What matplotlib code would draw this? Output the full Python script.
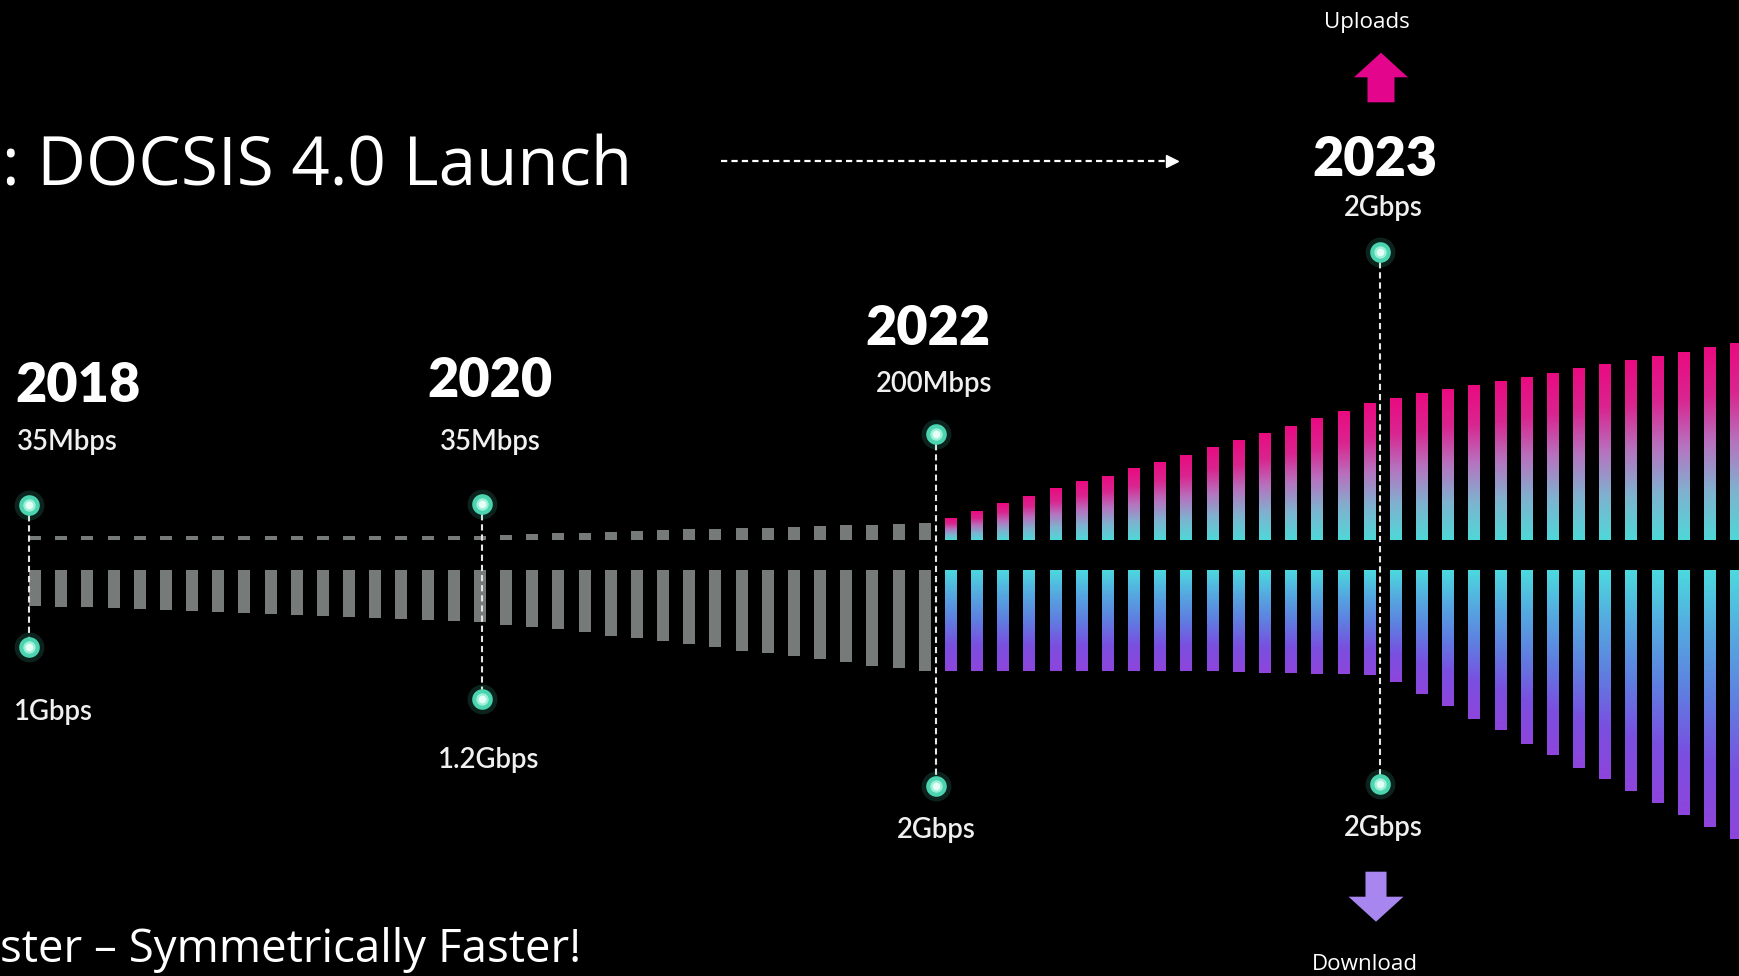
import numpy as np
import matplotlib
matplotlib.use("Agg")
import matplotlib.pyplot as plt
from matplotlib import font_manager as fm
from matplotlib.patches import FancyArrow
from matplotlib.colors import LinearSegmentedColormap

plt.rcParams['lines.scale_dashes'] = False

# ------------------------------------------------------------------ data
years = ['2018', '2020', '2022', '2023']
upload_labels = ['35Mbps', '35Mbps', '200Mbps', '2Gbps']
download_labels = ['1Gbps', '1.2Gbps', '2Gbps', '2Gbps']
# milestone position on the bar-index axis
year_pos = [-0.22, 17.08, 34.41, 51.41]
# marker levels (upload above / download below the centre gap)
upload_marker = [35, 36, 106, 288]
download_marker = [77, 129, 216, 214]

# legacy (grey) bars: upload above, download below
legacy_upload = [4, 4, 4, 4, 4, 4, 4, 4, 4, 4, 4, 4, 4, 4, 4, 4, 4.2,
                 4.5, 5, 5.7, 6.7, 7.5, 8.3, 9.3, 10, 10.7, 11, 11.7, 12.3,
                 13.3, 14, 14.7, 15.3, 16, 16.7]
legacy_download = [35.7, 36.7, 37.4, 38.4, 39, 40, 41.4, 42.4, 43.4, 44, 45,
                   46, 47.4, 48, 49, 50, 50.7, 52, 54.5, 57, 59, 62, 65.5, 68,
                   71, 74, 77, 80.5, 83, 86, 89, 92, 95.5, 98, 101]
# DOCSIS 4.0 (gradient) bars
d4_upload = [21.7, 29, 36.7, 44.3, 51.7, 59, 64.3, 71.7, 78.3, 85, 93.3, 100,
             107.3, 114.3, 121.7, 129, 136.7, 142.5, 146.7, 151, 154.6, 158.7,
             163.2, 167.3, 171.8, 176, 179.7, 184.5, 188.3, 193, 196.6]
d4_download = [101.5, 101.5, 101.5, 101.5, 101.5, 101.5, 101.5, 101.5, 101.5,
               101.5, 101.5, 102.5, 103, 103.5, 104, 104.5, 105, 111.6, 123.6,
               135.7, 149.4, 160.5, 173.6, 184.6, 197.7, 209, 221, 232.8,
               245.2, 257.2, 269.3]

title = ': DOCSIS 4.0 Launch'
subtitle = 'ster \u2013 Symmetrically Faster!'

# ------------------------------------------------------------------ layout
W, H = 1739, 976
X0, STEP, BW = 35.0, 26.17, 12.0
UP_BASE, DN_BASE = 540.0, 570.0
GRAY = '#767b79'

names = {f.name for f in fm.fontManager.ttflist}
SLIDE_FONT = next((f for f in ['Liberation Sans Narrow', 'Open Sans', 'Liberation Sans']
                   if f in names), 'DejaVu Sans')
LABEL_FONT = 'Lato' if 'Lato' in names else 'DejaVu Sans'

fig = plt.figure(figsize=(W / 100, H / 100), dpi=100, facecolor='black')
ax = fig.add_axes([0, 0, 1, 1])
ax.set_facecolor('black')
ax.axis('off')

n_leg = len(legacy_upload)
xs_leg = X0 + STEP * np.arange(n_leg)
xs_d4 = X0 + STEP * (n_leg + np.arange(len(d4_upload)))

# grey legacy bars
ax.bar(xs_leg, -np.array(legacy_upload), bottom=UP_BASE, width=BW, color=GRAY, lw=0)
ax.bar(xs_leg, np.array(legacy_download), bottom=DN_BASE, width=BW, color=GRAY, lw=0)

# gradient bars
cm_up = LinearSegmentedColormap.from_list('up', ['#ea0a80', '#d9258f', '#b673bf', '#7fb2cf', '#4fd8d8'])
cm_dn = LinearSegmentedColormap.from_list('dn', ['#4cdade', '#55a8e0', '#5f7ee0', '#7a4fe0', '#8e45dc'])
grad = np.linspace(0, 1, 256).reshape(-1, 1)

up_bars = ax.bar(xs_d4, -np.array(d4_upload), bottom=UP_BASE, width=BW,
                 color='none', lw=0)
dn_bars = ax.bar(xs_d4, np.array(d4_download), bottom=DN_BASE, width=BW,
                 color='none', lw=0)
for x, h, b in zip(xs_d4, d4_upload, up_bars):
    im = ax.imshow(grad, cmap=cm_up, aspect='auto', origin='upper',
                   extent=(x - BW / 2, x + BW / 2, UP_BASE, UP_BASE - h),
                   interpolation='bilinear', zorder=2)
    im.set_clip_path(b)
for x, h, b in zip(xs_d4, d4_download, dn_bars):
    im = ax.imshow(grad, cmap=cm_dn, aspect='auto', origin='upper',
                   extent=(x - BW / 2, x + BW / 2, DN_BASE + h, DN_BASE),
                   interpolation='bilinear', zorder=2)
    im.set_clip_path(b)

# milestone markers
xm = X0 + STEP * np.array(year_pos)
ym_up = UP_BASE - np.array(upload_marker)
ym_dn = DN_BASE + np.array(download_marker)
for x, y0, y1 in zip(xm, ym_up, ym_dn):
    ax.plot([x, x], [y0, y1], color='#e6e6e6', lw=1.5, dashes=(4.5, 2.8), zorder=4)
for ys in (ym_up, ym_dn):
    ax.scatter(xm, ys, s=460, color='#4fd9b6', alpha=0.16, lw=0, zorder=5)
    ax.scatter(xm, ys, s=220, color='#4ad4b0', lw=0, zorder=6)
    ax.scatter(xm, ys, s=80, color='#9ff0d8', lw=0, zorder=7)
    ax.scatter(xm, ys, s=30, color='#e6fff6', lw=0, zorder=7)

# labels
year_x = [15, 490, 928, 1375]
year_ha = ['left', 'center', 'center', 'center']
year_base = [402, 397, 345, 176]
up_x = [16.6, 490, 934.5, 1383]
up_base = [450, 450, 392, 216]
dn_x = [14.4, 489, 936.5, 1383]
dn_base = [720, 768, 838, 836]

year_texts, speed_texts = [], []
for i in range(4):
    year_texts.append(ax.text(year_x[i], year_base[i], years[i], ha=year_ha[i],
                              va='baseline', color='white', fontsize=38,
                              fontweight='heavy', family=LABEL_FONT, zorder=8))
    speed_texts.append(ax.text(up_x[i], up_base[i], upload_labels[i], ha=year_ha[i],
                               va='baseline', color='#f0f0f0', fontsize=20,
                               fontweight='semibold', family=LABEL_FONT, zorder=8))
    speed_texts.append(ax.text(dn_x[i], dn_base[i], download_labels[i], ha=year_ha[i],
                               va='baseline', color='#f0f0f0', fontsize=20,
                               fontweight='semibold', family=LABEL_FONT, zorder=8))

t_title = ax.text(2, 185, title, ha='left', va='baseline', color='white',
                  fontsize=60, family=SLIDE_FONT)
t_sub = ax.text(0, 962, subtitle, ha='left', va='baseline', color='white',
                fontsize=40, family=SLIDE_FONT)
t_upl = ax.text(1367, 28, 'Uploads', ha='center', va='baseline', color='white',
                fontsize=15, family='Open Sans')
t_dnl = ax.text(1365, 970, 'Download', ha='center', va='baseline', color='white',
                fontsize=15, family='Open Sans')

# dashed arrow pointing to 2023
ax.plot([721, 1168], [161, 161], color='white', lw=1.6, dashes=(4.5, 3))
ax.plot([1172], [161], marker='>', ms=8, color='white', mec='white')

# uploads / download arrows
ax.add_patch(FancyArrow(1381, 102.3, 0, -49.6, width=27, head_width=54,
                        head_length=24.6, length_includes_head=True,
                        color='#e3068d', lw=0))
ax.add_patch(FancyArrow(1376, 871.7, 0, 50, width=21, head_width=55,
                        head_length=25, length_includes_head=True,
                        color='#a886f0', lw=0))

ax.set_xlim(0, W)
ax.set_ylim(H, 0)


def fit(group, ref, target):
    fig.canvas.draw()
    r = fig.canvas.get_renderer()
    w = ref.get_window_extent(r).width
    s = ref.get_fontsize() * target / w
    for t in group:
        t.set_fontsize(s)


for _ in range(2):
    fit(year_texts, year_texts[1], 125)
    fit(speed_texts, speed_texts[0], 101)
    fit([t_title], t_title, 630)
    fit([t_sub], t_sub, 582)
    fit([t_upl], t_upl, 86)
    fit([t_dnl], t_dnl, 106)

fig.savefig('out.png', dpi=100, facecolor='black')
